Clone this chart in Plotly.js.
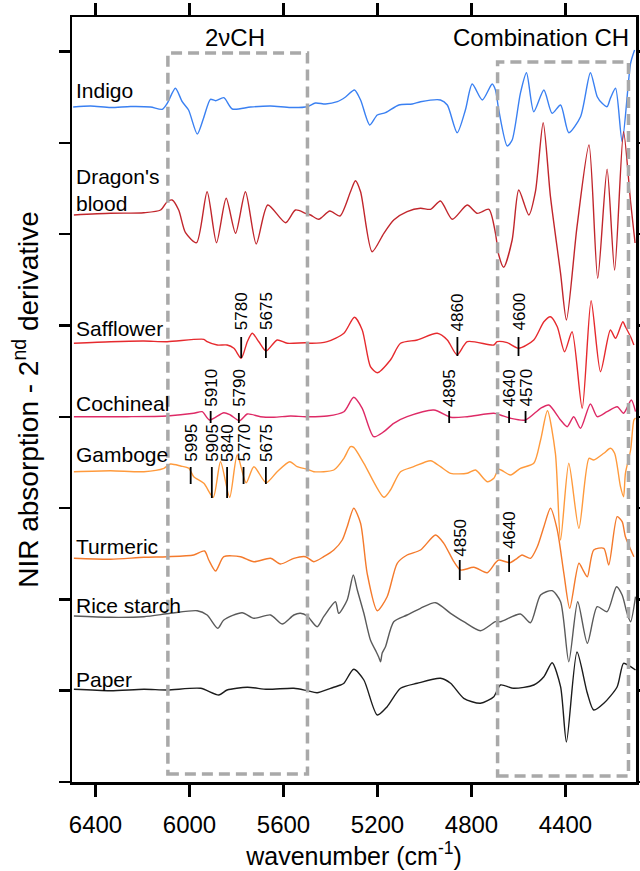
<!DOCTYPE html>
<html>
<head>
<meta charset="utf-8">
<script src="https://cdn.plot.ly/plotly-3.0.1.min.js"></script>
<style>
  html, body { margin: 0; padding: 0; background: #ffffff; }
  #chart { width: 640px; height: 871px; }
</style>
</head>
<body>
<div id="chart"></div>
<script>
// ---- Series data (wavenumber in cm-1, stacked 2nd-derivative absorbance, arbitrary units) ----
const seriesNames = ["Indigo", "Dragon's<br>blood", "Safflower", "Cochineal", "Gamboge", "Turmeric", "Rice starch", "Paper"];
const seriesColors = ["#3a80f2", "#c1262c", "#e62a2e", "#de2a66", "#ff9a3c", "#f47a2c", "#5a5a5a", "#1c1c1c"];

const indigoWn = [6495,6421,6336,6251,6166,6116,6094,6060,6031,6004,5967,5940,5911,5889,5854,5818,5740,5655,5570,5499,5464,5421,5371,5336,5298,5272,5233,5201,5166,5109,5052,5017,4932,4903,4861,4826,4797,4754,4712,4698,4684,4648,4627,4592,4566,4535,4492,4457,4421,4386,4336,4294,4265,4244,4223,4209,4187,4159,4123,4106];
const indigoAbs = [6.75,6.76,6.745,6.755,6.75,6.727,6.79,6.937,6.803,6.72,6.48,6.64,6.827,6.813,6.843,6.73,6.75,6.76,6.745,6.753,6.79,6.78,6.803,6.85,6.92,6.82,6.57,6.67,6.693,6.77,6.78,6.803,6.82,6.77,6.493,6.72,6.98,6.82,6.98,6.92,6.72,6.36,6.42,6.887,7.093,6.703,6.92,6.687,6.77,6.493,6.653,7.093,6.853,6.787,6.753,6.837,6.937,6.403,7.187,7.32];

const dragonWn = [6492,6336,6194,6123,6095,6074,6046,6017,5970,5925,5885,5844,5804,5762,5716,5667,5591,5549,5506,5485,5450,5403,5360,5315,5294,5272,5223,5173,5131,5074,5017,4974,4932,4882,4818,4776,4726,4698,4684,4663,4627,4599,4556,4528,4495,4464,4421,4396,4351,4300,4263,4223,4191,4153,4123,4104];
const dragonAbs = [5.67,5.687,5.693,5.72,5.803,5.82,5.72,5.493,5.393,5.903,5.393,5.837,5.487,5.903,5.38,5.77,5.593,5.72,5.687,5.67,5.627,5.71,5.66,5.903,6.013,5.903,5.303,5.487,5.62,5.703,5.737,5.727,5.81,5.627,5.77,5.687,5.727,5.487,5.27,5.147,5.42,5.92,5.67,5.903,6.593,5.853,5.087,4.62,5.553,6.37,5.037,6.127,5.12,6.503,5.8,5.39];

const safflowerWn = [6492,6336,6194,6095,5939,5925,5882,5840,5811,5780,5754,5733,5705,5674,5627,5584,5506,5485,5414,5343,5298,5265,5230,5201,5145,5102,5031,4946,4903,4861,4818,4705,4691,4648,4599,4535,4492,4464,4435,4404,4372,4329,4291,4251,4209,4187,4156,4145,4123,4109];
const safflowerAbs = [4.387,4.403,4.41,4.403,4.427,4.403,4.37,4.37,4.337,4.237,4.403,4.487,4.403,4.31,4.42,4.387,4.393,4.387,4.403,4.487,4.647,4.52,4.153,4.093,4.22,4.387,4.42,4.487,4.42,4.27,4.403,4.37,4.403,4.393,4.337,4.42,4.603,4.653,4.553,4.303,4.503,3.737,4.813,4.103,4.52,4.437,4.603,4.553,4.453,4.37];

const cochinealWn = [6492,6265,6095,5982,5946,5915,5854,5826,5787,5754,5698,5641,5570,5506,5414,5343,5301,5265,5216,5173,5131,5074,4960,4889,4818,4705,4677,4634,4570,4506,4471,4421,4393,4365,4336,4294,4265,4223,4180,4153,4120,4102];
const cochinealAbs = [3.653,3.653,3.66,3.687,3.703,3.62,3.693,3.67,3.613,3.68,3.653,3.647,3.66,3.653,3.66,3.703,3.847,3.737,3.453,3.503,3.587,3.653,3.72,3.647,3.653,3.687,3.67,3.637,3.62,3.737,3.77,3.62,3.553,3.653,3.537,3.78,3.653,3.703,3.753,3.687,3.82,3.703];

const gambogeWn = [6492,6336,6194,6109,6081,6038,6003,5982,5939,5899,5868,5829,5797,5759,5726,5674,5627,5573,5542,5499,5471,5386,5343,5315,5301,5258,5173,5145,5102,5046,4974,4932,4889,4818,4783,4733,4705,4684,4634,4592,4535,4506,4477,4443,4421,4386,4343,4300,4280,4237,4209,4191,4166,4153,4145,4123,4109,4102];
const gambogeAbs = [3.103,3.113,3.103,3.137,3.18,3.16,3.137,3.053,2.987,2.847,3.203,2.847,3.27,2.993,3.153,2.993,3.103,3.203,3.153,3.127,3.103,3.12,3.237,3.353,3.347,3.187,2.847,2.92,3.103,3.153,3.213,3.153,3.087,3.087,3.12,3.003,3.037,3.127,3.07,3.137,3.187,3.42,3.713,3.287,2.42,3.187,2.537,3.237,3.22,3.287,3.337,3.287,2.953,2.853,3.087,3.32,3.62,3.64];

const turmericWn = [6492,6336,6194,6095,5982,5936,5918,5889,5854,5783,5726,5655,5613,5556,5506,5471,5429,5386,5350,5329,5301,5272,5244,5201,5159,5116,5074,5017,4953,4918,4875,4847,4790,4733,4698,4684,4637,4606,4585,4549,4520,4492,4464,4435,4407,4382,4343,4322,4307,4280,4237,4216,4180,4159,4145,4109];
const turmericAbs = [2.237,2.227,2.247,2.253,2.27,2.31,2.22,2.11,2.253,2.253,2.203,2.237,2.18,2.237,2.253,2.203,2.253,2.32,2.42,2.553,2.737,2.587,2.087,1.713,1.853,2.187,2.27,2.32,2.47,2.387,2.203,2.12,2.147,2.093,2.193,2.22,2.193,2.237,2.27,2.237,2.353,2.553,2.737,2.52,2.087,1.737,2.187,2.103,2.053,2.32,2.337,2.17,2.653,2.603,2.453,2.253];

const riceWn = [6492,6336,6194,6081,5967,5925,5880,5854,5776,5726,5655,5606,5556,5528,5499,5457,5429,5379,5365,5329,5303,5286,5258,5230,5205,5195,5187,5180,5166,5131,5074,5017,4953,4889,4833,4762,4698,4677,4592,4549,4506,4457,4421,4386,4348,4307,4265,4223,4183,4159,4138,4123,4102];
const riceAbs = [1.66,1.647,1.653,1.687,1.713,1.67,1.537,1.62,1.693,1.637,1.67,1.58,1.67,1.687,1.66,1.553,1.653,1.803,1.687,1.82,2.07,1.92,1.687,1.42,1.30,1.25,1.203,1.29,1.353,1.603,1.67,1.737,1.793,1.687,1.603,1.513,1.603,1.603,1.68,1.593,1.87,1.913,1.803,1.203,1.803,1.387,1.753,1.703,1.953,1.87,1.687,1.603,1.853];

const paperWn = [6492,6336,6194,6095,5953,5875,5840,5754,5669,5556,5499,5457,5400,5357,5343,5301,5258,5201,5159,5102,5031,4932,4889,4833,4762,4705,4677,4620,4535,4492,4457,4421,4396,4351,4307,4280,4237,4180,4153,4123,4102];
const paperAbs = [0.927,0.913,0.927,0.92,0.937,0.87,0.92,0.947,0.927,0.937,0.913,0.893,0.937,0.97,0.987,1.127,1.02,0.67,0.753,0.937,0.987,1.037,0.987,0.837,0.787,0.853,0.97,0.937,0.97,1.053,1.193,0.953,0.40,1.30,0.887,0.72,0.787,0.953,1.187,1.153,1.12];

// ---- Band markers ----
const markerWn    = [5780, 5675, 4860, 4600, 5910, 5790, 4895, 4640, 4570, 5995, 5905, 5840, 5770, 5675, 4850, 4640];
const markerText  = ["5780","5675","4860","4600","5910","5790","4895","4640","4570","5995","5905","5840","5770","5675","4850","4640"];
// vertical placement of each marker (line top, line bottom, label base), in plot units
const markerTop    = [4.45,4.45,4.45,4.45, 3.71,3.69,3.71,3.71,3.71, 3.15,3.15,3.15,3.15,3.15, 2.22,2.27];
const markerBottom = [4.24,4.24,4.26,4.26, 3.59,3.59,3.59,3.59,3.59, 2.98,2.84,2.84,2.98,2.98, 2.02,2.10];
const markerLabelY = [4.51,4.51,4.50,4.50, 3.74,3.74,3.74,3.74,3.74, 3.19,3.19,3.19,3.19,3.19, 2.24,2.32];

// series label positions (plot units)
const labelY = [6.92, 5.92, 4.537, 3.787, 3.28, 2.36, 1.77, 1.027];

// regions
const regionNames = ["2\u03BDCH", "Combination CH"];
const regionWn = [[6092, 5498], [4689, 4132]];

const FONT = "Liberation Sans, Arial, Helvetica, sans-serif";

const allWn = [indigoWn, dragonWn, safflowerWn, cochinealWn, gambogeWn, turmericWn, riceWn, paperWn];
const allAbs = [indigoAbs, dragonAbs, safflowerAbs, cochinealAbs, gambogeAbs, turmericAbs, riceAbs, paperAbs];

const traces = allWn.map((wn, i) => ({
  x: wn, y: allAbs[i], type: "scatter", mode: "lines",
  name: seriesNames[i],
  line: { color: seriesColors[i], width: 1.4, shape: "spline", smoothing: 0.7 },
  hoverinfo: "skip"
}));

const shapes = [];
// dashed region boxes
const boxY = [[0.08, 7.29], [0.06, 7.20]];
regionWn.forEach((r, i) => {
  shapes.push({
    type: "rect", xref: "x", yref: "y",
    x0: r[0], x1: r[1], y0: boxY[i][0], y1: boxY[i][1],
    line: { color: "#a9a9a9", width: 3.5, dash: "11px,6px" },
    fillcolor: "rgba(0,0,0,0)", layer: "above"
  });
});
// marker ticks
markerWn.forEach((w, i) => {
  shapes.push({
    type: "line", xref: "x", yref: "y",
    x0: w, x1: w, y0: markerBottom[i], y1: markerTop[i],
    line: { color: "#000000", width: 1.8 }, layer: "above"
  });
});

const annotations = [];
markerWn.forEach((w, i) => {
  annotations.push({
    x: w, y: markerLabelY[i], xref: "x", yref: "y",
    text: markerText[i], showarrow: false, textangle: -90,
    xanchor: "center", yanchor: "bottom",
    font: { family: FONT, size: 17, color: "#000" }, borderpad: 0
  });
});
seriesNames.forEach((n, i) => {
  annotations.push({
    x: 0.006, y: labelY[i], xref: "paper", yref: "y",
    text: n, showarrow: false, xanchor: "left", yanchor: "middle", align: "left",
    font: { family: FONT, size: 21, color: "#000" }, borderpad: 0
  });
});
annotations.push({
  x: 5805, y: 7.45, xref: "x", yref: "y", text: regionNames[0], showarrow: false,
  xanchor: "center", yanchor: "middle", font: { family: FONT, size: 24, color: "#000" }
});
annotations.push({
  x: 4504, y: 7.45, xref: "x", yref: "y", text: regionNames[1], showarrow: false,
  xanchor: "center", yanchor: "middle", font: { family: FONT, size: 24, color: "#000" }
});

const xTicks = [6400, 6000, 5600, 5200, 4800, 4400];

const layout = {
  width: 640, height: 871,
  margin: { l: 72, r: 4, t: 17, b: 89 },
  paper_bgcolor: "#ffffff", plot_bgcolor: "#ffffff",
  showlegend: false,
  font: { family: FONT, color: "#000" },
  xaxis: {
    range: [6500, 4100], tickvals: xTicks, ticktext: xTicks.map(String),
    ticks: "outside", ticklen: 12, tickwidth: 2.5, tickcolor: "#000",
    showline: true, linewidth: 2.5, linecolor: "#000", mirror: "ticks",
    showgrid: false, zeroline: false,
    tickfont: { family: FONT, size: 24, color: "#000" },
    ticklabelstandoff: 8,
    title: { text: "wavenumber (cm<sup>-1</sup>)", font: { family: FONT, size: 25, color: "#000" }, standoff: 8 }
  },
  yaxis: {
    range: [0, 7.65], tick0: 0, dtick: 0.913,
    ticks: "outside", ticklen: 11, tickwidth: 2.5, tickcolor: "#000",
    showline: true, linewidth: 2.5, linecolor: "#000", mirror: "ticks",
    showgrid: false, zeroline: false, showticklabels: false,
    title: { text: "NIR absorption - 2<sup>nd</sup> derivative", font: { family: FONT, size: 28, color: "#000" }, standoff: 12 }
  },
  shapes: shapes,
  annotations: annotations
};

Plotly.newPlot("chart", traces, layout, { displayModeBar: false, staticPlot: true });
</script>
</body>
</html>
